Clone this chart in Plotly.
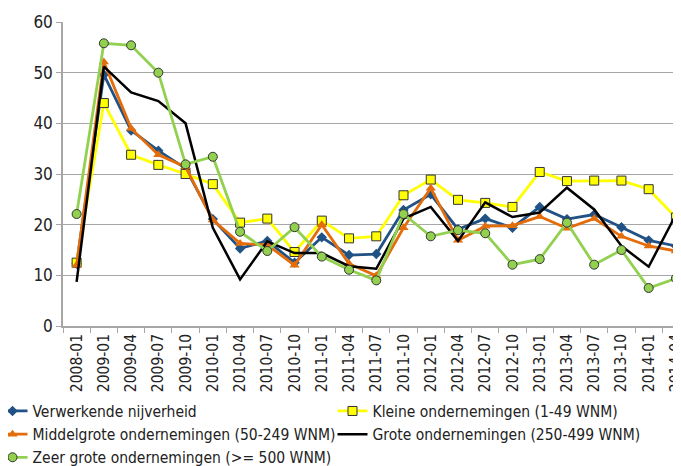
import plotly.graph_objects as go

categories = ["2008-01", "2009-01", "2009-04", "2009-07", "2009-10", "2010-01", "2010-04",
              "2010-07", "2010-10", "2011-01", "2011-04", "2011-07", "2011-10", "2012-01",
              "2012-04", "2012-07", "2012-10", "2013-01", "2013-04", "2013-07", "2013-10",
              "2014-01", "2014-04"]

verwerkende = [12.3, 49.6, 38.6, 34.6, 31.1, 21.1, 15.3, 16.8, 12.5, 17.5, 14.0, 14.2, 22.9,
               26.0, 19.1, 21.2, 19.4, 23.5, 21.1, 22.0, 19.5, 16.9, 15.8]
kleine = [12.5, 44.0, 33.8, 31.8, 30.0, 28.0, 20.4, 21.2, 14.6, 20.8, 17.3, 17.7, 25.8,
          28.9, 24.9, 24.3, 23.5, 30.4, 28.6, 28.7, 28.7, 27.0, 21.4]
middelgrote = [12.0, 52.1, 39.0, 33.8, 31.4, 20.9, 16.3, 16.0, 12.0, 20.0, 12.3, 9.9, 19.4,
               27.2, 16.9, 19.7, 19.8, 21.6, 19.3, 21.2, 17.7, 15.8, 14.8]
grote = [8.7, 51.2, 46.1, 44.4, 40.0, 19.4, 9.2, 16.7, 14.4, 14.4, 11.8, 11.3, 21.2,
         23.5, 16.8, 24.4, 21.5, 22.4, 27.3, 23.0, 15.8, 11.7, 22.0]
zeer_grote = [22.1, 55.8, 55.4, 50.0, 31.9, 33.4, 18.6, 14.8, 19.5, 13.7, 11.1, 9.0, 22.1,
              17.7, 18.9, 18.3, 12.1, 13.2, 20.4, 12.1, 15.0, 7.5, 9.4]

names = ["Verwerkende nijverheid", "Kleine ondernemingen (1-49 WNM)",
         "Middelgrote ondernemingen (50-249 WNM)", "Grote ondernemingen (250-499 WNM)",
         "Zeer grote ondernemingen (>= 500 WNM)"]

FONT = "Liberation Sans Narrow, Arial Narrow, DejaVu Sans Condensed, Liberation Sans, sans-serif"

fig = go.Figure()
fig.add_trace(go.Scatter(x=categories, y=verwerkende, name=names[0], mode="lines+markers",
                         line=dict(color="#215285", width=2.8),
                         marker=dict(symbol="diamond", size=8, color="#215285")))
fig.add_trace(go.Scatter(x=categories, y=kleine, name=names[1], mode="lines+markers",
                         line=dict(color="#FFFF00", width=2.8),
                         marker=dict(symbol="square", size=9, color="#FFFF00",
                                     line=dict(color="#333333", width=1))))
fig.add_trace(go.Scatter(x=categories, y=middelgrote, name=names[2], mode="lines+markers",
                         line=dict(color="#E46C0A", width=2.8),
                         marker=dict(symbol="triangle-up", size=9, color="#E46C0A")))
fig.add_trace(go.Scatter(x=categories, y=grote, name=names[3], mode="lines",
                         line=dict(color="#000000", width=2.5)))
fig.add_trace(go.Scatter(x=categories, y=zeer_grote, name=names[4], mode="lines+markers",
                         line=dict(color="#92D050", width=2.8),
                         marker=dict(symbol="circle", size=9, color="#92D050",
                                     line=dict(color="#333333", width=1))))

fig.update_layout(
    width=681, height=466,
    margin=dict(l=55, r=0, t=14, b=148, autoexpand=False),
    paper_bgcolor="white", plot_bgcolor="white",
    font=dict(family=FONT, size=14, color="#222222"),
    showlegend=True,
    legend=dict(orientation="h", x=-0.1126, xanchor="left", y=-0.225, yanchor="top",
                entrywidth=295, entrywidthmode="pixels", tracegroupgap=0,
                font=dict(family=FONT, size=15.5, color="#222222"),
                itemwidth=30, traceorder="normal", bgcolor="rgba(0,0,0,0)"),
    xaxis=dict(type="category", range=[-0.5, 22.48], tickangle=-90,
               tickfont=dict(family=FONT, size=15.5, color="#222222"),
               showgrid=False, showline=True, linecolor="#A6A6A6", linewidth=1.5,
               ticks="outside", tickson="boundaries", ticklen=5, tickcolor="#A6A6A6"),
    yaxis=dict(range=[0, 60], dtick=10, tickfont=dict(family=FONT, size=17, color="#222222"),
               showgrid=True, gridcolor="#A6A6A6", gridwidth=1.2,
               showline=True, linecolor="#A6A6A6", linewidth=1.5,
               ticks="outside", ticklen=5, tickcolor="#A6A6A6", zeroline=False),
)

fig.write_html("out.html")
